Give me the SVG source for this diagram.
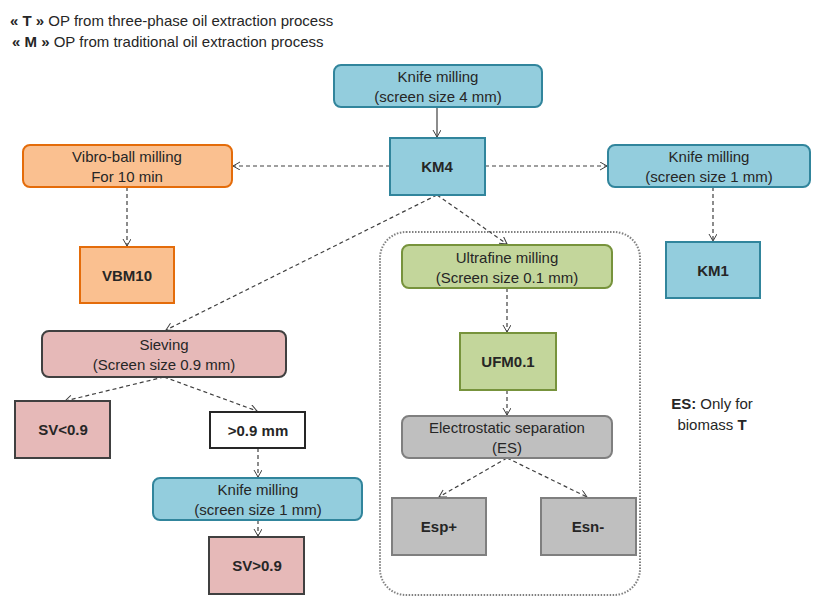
<svg xmlns="http://www.w3.org/2000/svg" width="813" height="597" viewBox="0 0 813 597">
<defs>
<marker id="arr" markerWidth="10" markerHeight="10" refX="8" refY="4" orient="auto" markerUnits="userSpaceOnUse">
<path d="M1,0 L8,4 L1,8" fill="none" stroke="#404040" stroke-width="1"/>
</marker>
<style>
text{font-family:"Liberation Sans",Arial,sans-serif;font-size:15px;fill:#262626;text-anchor:middle}
.b{font-weight:bold}
.blue{fill:#93CDDD;stroke:#31859C;stroke-width:2}
.orange{fill:#FAC090;stroke:#E46C0A;stroke-width:2}
.green{fill:#C3D69B;stroke:#77933C;stroke-width:2}
.pink{fill:#E6B9B8;stroke:#404040;stroke-width:2}
.gray{fill:#BFBFBF;stroke:#7F7F7F;stroke-width:2}
.white{fill:#fff;stroke:#262626;stroke-width:2}
.c{fill:none;stroke:#404040;stroke-width:1.2;stroke-dasharray:4,3;marker-end:url(#arr)}
.s{fill:none;stroke:#404040;stroke-width:1.2;marker-end:url(#arr)}
</style>
</defs>
<g id="legend">
<text x="10" y="26" style="text-anchor:start"><tspan class="b">« T »</tspan> OP from three-phase oil extraction process</text>
<text x="12" y="47" style="text-anchor:start"><tspan class="b">« M »</tspan> OP from traditional oil extraction process</text>
</g>
<g id="container"><rect x="380" y="232" width="260" height="363" rx="26" fill="none" stroke="#808080" stroke-width="2" stroke-dasharray="1.5,1.5"/></g>
<g id="connectors">
<path class="s" d="M437,107 L437,137"/>
<path class="c" d="M390,166 L233,166"/>
<path class="c" d="M485,166 L607,166"/>
<path class="c" d="M437,195 L166,330"/>
<path class="c" d="M437,195 L507,244"/>
<path class="c" d="M127,187 L127,246"/>
<path class="c" d="M713,187 L713,241"/>
<path class="c" d="M507,288 L507,332"/>
<path class="c" d="M507,390 L507,415"/>
<path class="c" d="M507,458 L439,497"/>
<path class="c" d="M507,458 L587,497"/>
<path class="c" d="M164,377 L65,401"/>
<path class="c" d="M164,377 L257,411"/>
<path class="c" d="M258,448 L258,477"/>
<path class="c" d="M258,520 L258,536"/>
</g>
<g id="knife4"><rect class="blue" x="334" y="65" width="208" height="42" rx="7"/><text x="438" y="82">Knife milling</text><text x="438" y="102">(screen size 4 mm)</text></g>
<g id="KM4"><rect class="blue" x="390" y="138" width="95" height="57"/><text class="b" x="437" y="172">KM4</text></g>
<g id="vibro"><rect class="orange" x="23" y="145" width="209" height="42" rx="7"/><text x="127" y="162">Vibro-ball milling</text><text x="127" y="182">For 10 min</text></g>
<g id="VBM10"><rect class="orange" x="80" y="247" width="94" height="56"/><text class="b" x="127" y="281">VBM10</text></g>
<g id="knife1"><rect class="blue" x="608" y="145" width="202" height="42" rx="7"/><text x="709" y="162">Knife milling</text><text x="709" y="182">(screen size 1 mm)</text></g>
<g id="KM1"><rect class="blue" x="666" y="242" width="94" height="56"/><text class="b" x="713" y="276">KM1</text></g>
<g id="ultrafine"><rect class="green" x="402" y="245" width="210" height="43" rx="7"/><text x="507" y="263">Ultrafine milling</text><text x="507" y="283">(Screen size 0.1 mm)</text></g>
<g id="UFM01"><rect class="green" x="460" y="333" width="96" height="57"/><text class="b" x="508" y="367">UFM0.1</text></g>
<g id="ES"><rect class="gray" x="402" y="416" width="210" height="42" rx="7"/><text x="507" y="433">Electrostatic separation</text><text x="507" y="453">(ES)</text></g>
<g id="Espp"><rect class="gray" x="392" y="498" width="94" height="57"/><text class="b" x="439" y="532">Esp+</text></g>
<g id="Esnm"><rect class="gray" x="541" y="498" width="95" height="57"/><text class="b" x="588" y="532">Esn-</text></g>
<g id="sieving"><rect class="pink" x="42" y="331" width="244" height="46" rx="7"/><text x="164" y="350">Sieving</text><text x="164" y="370">(Screen size 0.9 mm)</text></g>
<g id="SVlt"><rect class="pink" x="15" y="401" width="95" height="57"/><text class="b" x="63" y="435">SV&lt;0.9</text></g>
<g id="gt09"><rect class="white" x="210" y="412" width="95" height="36"/><text class="b" x="258" y="436">&gt;0.9 mm</text></g>
<g id="knife1b"><rect class="blue" x="153" y="478" width="209" height="42" rx="7"/><text x="258" y="495">Knife milling</text><text x="258" y="515">(screen size 1 mm)</text></g>
<g id="SVgt"><rect class="pink" x="209" y="537" width="95" height="57"/><text class="b" x="257" y="571">SV&gt;0.9</text></g>
<g id="note"><text x="712" y="409"><tspan class="b">ES:</tspan> Only for</text><text x="712" y="430">biomass <tspan class="b">T</tspan></text></g>
</svg>
